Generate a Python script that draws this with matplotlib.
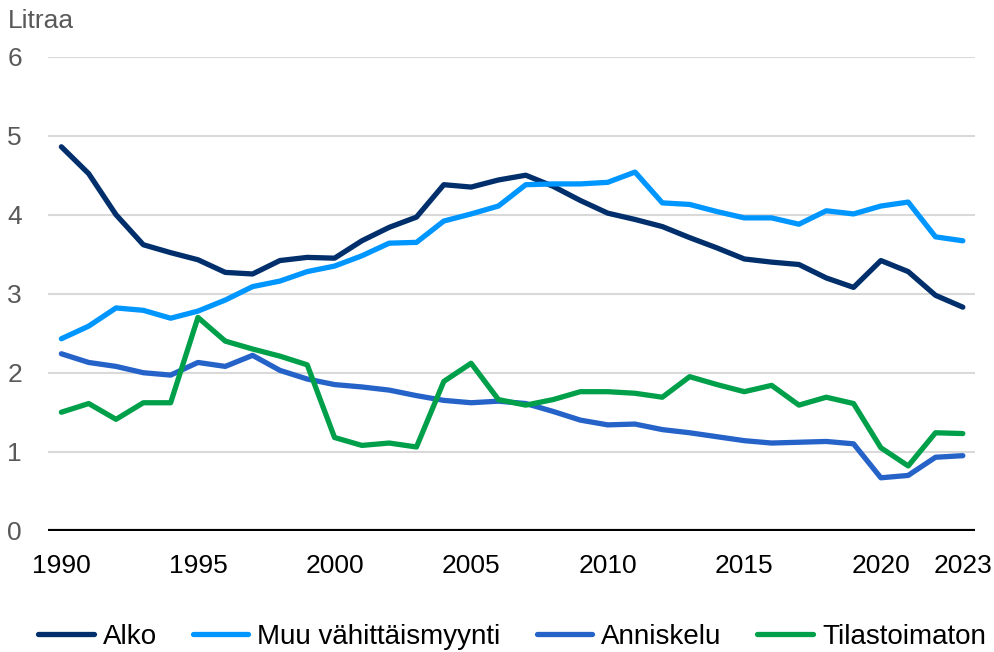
import matplotlib.pyplot as plt

years = list(range(1990, 2024))

alko = [4.86, 4.52, 4.00, 3.62, 3.52, 3.43, 3.27, 3.25, 3.42, 3.46, 3.45, 3.67, 3.84, 3.97,
        4.38, 4.35, 4.44, 4.50, 4.36, 4.18, 4.02, 3.94, 3.85, 3.71, 3.58, 3.44, 3.40, 3.37,
        3.20, 3.08, 3.42, 3.28, 2.98, 2.83]
muu = [2.43, 2.59, 2.82, 2.79, 2.69, 2.78, 2.92, 3.09, 3.16, 3.28, 3.35, 3.48, 3.64, 3.65,
       3.92, 4.01, 4.11, 4.38, 4.39, 4.39, 4.41, 4.54, 4.15, 4.13, 4.04, 3.96, 3.96, 3.88,
       4.05, 4.01, 4.11, 4.16, 3.72, 3.67]
anniskelu = [2.24, 2.13, 2.08, 2.00, 1.97, 2.13, 2.08, 2.22, 2.03, 1.92, 1.85, 1.82, 1.78, 1.71,
             1.65, 1.62, 1.64, 1.61, 1.51, 1.40, 1.34, 1.35, 1.28, 1.24, 1.19, 1.14, 1.11, 1.12,
             1.13, 1.10, 0.67, 0.70, 0.93, 0.95]
tilastoimaton = [1.50, 1.61, 1.41, 1.62, 1.62, 2.70, 2.40, 2.30, 2.21, 2.10, 1.18, 1.08, 1.11, 1.06,
                 1.89, 2.12, 1.66, 1.59, 1.66, 1.76, 1.76, 1.74, 1.69, 1.95, 1.85, 1.76, 1.84, 1.59,
                 1.69, 1.61, 1.05, 0.82, 1.24, 1.23]

labels = ['Alko', 'Muu vähittäismyynti', 'Anniskelu', 'Tilastoimaton']
colors = ['#002f6c', '#0096ff', '#2563c8', '#00a04b']
xticks = [1990, 1995, 2000, 2005, 2010, 2015, 2020, 2023]

plt.rcParams['font.family'] = ['Liberation Sans', 'DejaVu Sans']

fig = plt.figure(figsize=(9.94, 6.52), dpi=100)
ax = fig.add_axes([0.048, 0.186, 0.933, 0.727])

for series, lab, col in zip([alko, muu, anniskelu, tilastoimaton], labels, colors):
    ax.plot(years, series, color=col, lw=3.8, label=lab, solid_capstyle='round', zorder=3)

ax.set_xlim(1989.5, 2023.45)
ax.set_ylim(0, 6)
ax.set_yticks(range(0, 7))
ax.set_xticks(xticks)
ax.grid(axis='y', color='#d9d9d9', lw=1.5)
ax.axhline(0, color='black', lw=3, zorder=4)
for s in ax.spines.values():
    s.set_visible(False)
ax.tick_params(axis='both', length=0)
ax.tick_params(axis='y', labelsize=19, labelcolor='#595959')
ax.tick_params(axis='x', labelsize=19, labelcolor='black', pad=17)
for t in ax.get_yticklabels():
    t.set_horizontalalignment('left')
ax.yaxis.set_tick_params(pad=29)

fig.text(0.008, 0.968, 'Litraa', fontsize=19, color='#595959', va='center', ha='left')

fig.legend(loc='lower center', bbox_to_anchor=(0.515, -0.035), ncol=4, frameon=False,
           fontsize=20, handlelength=2.0, handletextpad=0.32, columnspacing=1.3)

fig.savefig('out.png', dpi=100)
